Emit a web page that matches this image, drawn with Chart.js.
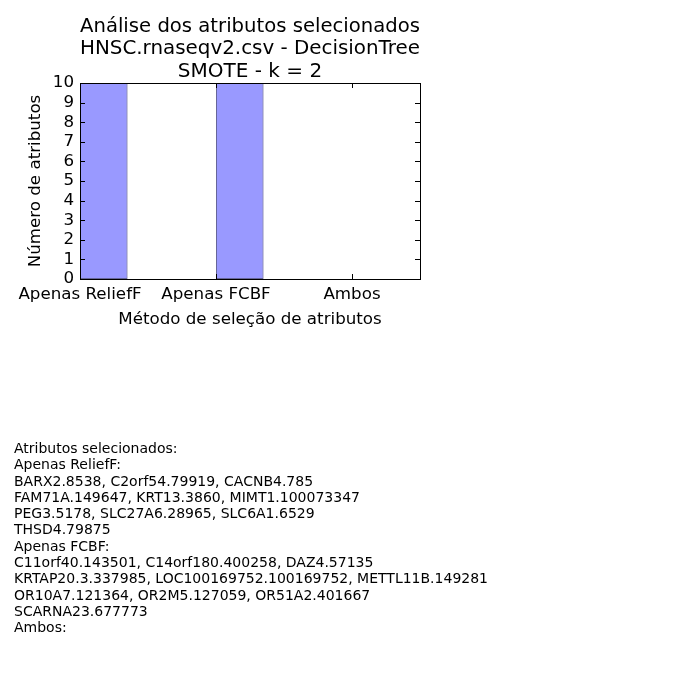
<!DOCTYPE html>
<html>
<head>
<meta charset="utf-8">
<script src="https://cdn.jsdelivr.net/npm/chart.js@4/dist/chart.umd.min.js"></script>
<style>
  html, body { margin: 0; padding: 0; background: #fff; }
  #wrap { position: relative; width: 700px; height: 700px; }
  canvas { position: absolute; left: 0; top: 0; }
  #info { position: absolute; left: 14px; top: 440px; font-family: "DejaVu Sans"; font-size: 14px; line-height: 16.3px; color: #000; white-space: pre; }
</style>
</head>
<body>
<div id="wrap">
<canvas id="c" width="700" height="700"></canvas>
<div id="info"></div>
</div>
<script>
const titleLines = ["Análise dos atributos selecionados", "HNSC.rnaseqv2.csv - DecisionTree", "SMOTE - k = 2"];
const categories = ["Apenas ReliefF", "Apenas FCBF", "Ambos"];
const counts = [10, 10, 0];
const yTicks = [0, 1, 2, 3, 4, 5, 6, 7, 8, 9, 10];
const xTitle = "Método de seleção de atributos";
const yTitle = "Número de atributos";
const barWidth = 0.35;
const infoLines = [
  "Atributos selecionados:",
  "Apenas ReliefF:",
  "BARX2.8538, C2orf54.79919, CACNB4.785",
  "FAM71A.149647, KRT13.3860, MIMT1.100073347",
  "PEG3.5178, SLC27A6.28965, SLC6A1.6529",
  "THSD4.79875",
  "Apenas FCBF:",
  "C11orf40.143501, C14orf180.400258, DAZ4.57135",
  "KRTAP20.3.337985, LOC100169752.100169752, METTL11B.149281",
  "OR10A7.121364, OR2M5.127059, OR51A2.401667",
  "SCARNA23.677773",
  "Ambos:"
];

document.getElementById('info').textContent = infoLines.join("\n");

const FONT = "DejaVu Sans";

const framePlugin = {
  id: 'frame',
  afterDraw(chart) {
    const ctx = chart.ctx;
    const a = chart.chartArea;
    const xs = chart.scales.x, ys = chart.scales.y;
    const L = 5;
    ctx.save();
    ctx.strokeStyle = '#000';
    ctx.lineWidth = 1;
    ctx.beginPath();
    categories.forEach((c, i) => {
      const px = Math.round(xs.getPixelForValue(i)) + 0.5;
      ctx.moveTo(px, a.bottom); ctx.lineTo(px, a.bottom - L);
      ctx.moveTo(px, a.top); ctx.lineTo(px, a.top + L);
    });
    yTicks.forEach(v => {
      const py = Math.round(ys.getPixelForValue(v)) + 0.5;
      ctx.moveTo(a.left, py); ctx.lineTo(a.left + L, py);
      ctx.moveTo(a.right, py); ctx.lineTo(a.right - L, py);
    });
    ctx.stroke();
    ctx.strokeRect(Math.round(a.left) + 0.5, Math.round(a.top) + 0.5, Math.round(a.right - a.left), Math.round(a.bottom - a.top));
    ctx.restore();
  }
};

new Chart(document.getElementById('c'), {
  type: 'bar',
  data: {
    datasets: [{
      data: counts.map((v, i) => ({ x: i + barWidth / 2, y: v })),
      backgroundColor: 'rgba(0,0,255,0.4)',
      borderColor: '#666699',
      borderWidth: 1,
      borderSkipped: false,
      barPercentage: barWidth,
      categoryPercentage: 1
    }]
  },
  options: {
    responsive: false,
    animation: false,
    layout: { padding: { left: 0, right: 280, top: 0, bottom: 361 } },
    plugins: {
      legend: { display: false },
      tooltip: { enabled: false },
      title: {
        display: true,
        fullSize: false,
        text: titleLines,
        color: '#000',
        font: { family: FONT, size: 20, weight: 'normal', lineHeight: 1.125 },
        padding: { top: 15.5, bottom: 0 }
      }
    },
    scales: {
      x: {
        type: 'linear',
        offset: false,
        min: 0,
        max: 2.5,
        afterBuildTicks(scale) { scale.ticks = categories.map((c, i) => ({ value: i })); },
        afterFit(scale) { scale.height = 60; },
        grid: { display: false, drawTicks: false, offset: false },
        border: { display: false },
        ticks: {
          autoSkip: false,
          maxRotation: 0,
          padding: 6,
          color: '#000',
          font: { family: FONT, size: 16.7 },
          callback: (v) => categories[v]
        },
        title: {
          display: true,
          text: xTitle,
          color: '#000',
          font: { family: FONT, size: 16.7 },
          padding: { top: 0, bottom: 9 }
        }
      },
      y: {
        min: 0,
        max: 10,
        afterBuildTicks(scale) { scale.ticks = yTicks.map(v => ({ value: v })); },
        afterFit(scale) { scale.width = 80; },
        grid: { display: false, drawTicks: false },
        border: { display: false },
        ticks: {
          autoSkip: false,
          padding: 6,
          color: '#000',
          font: { family: FONT, size: 16.7 }
        },
        title: {
          display: true,
          text: yTitle,
          color: '#000',
          font: { family: FONT, size: 16.7 },
          padding: { top: 26, bottom: 0 }
        }
      }
    }
  },
  plugins: [framePlugin]
});
</script>
</body>
</html>
